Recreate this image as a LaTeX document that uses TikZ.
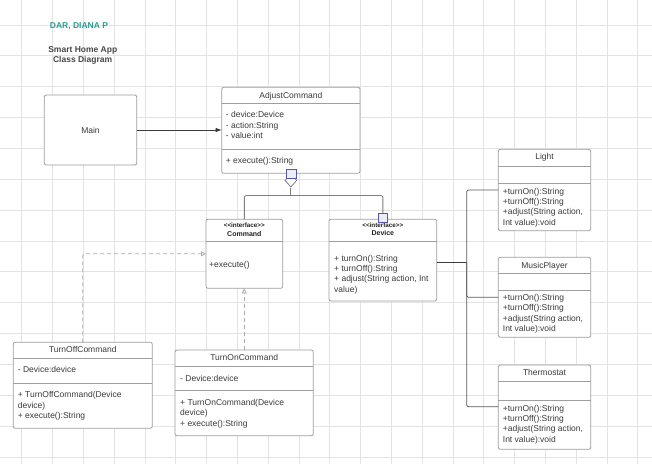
\documentclass[tikz,border=0pt]{standalone}
\usepackage{fontspec}
\setmainfont{Liberation Sans}
\usetikzlibrary{arrows.meta,shapes.geometric}

\definecolor{gridc}{HTML}{E3E3E3}
\definecolor{boxc}{HTML}{9E9E9E}
\definecolor{txtc}{HTML}{3A3A3A}
\definecolor{headc}{HTML}{222222}
\definecolor{authorc}{HTML}{2A9D8F}
\definecolor{titlec}{HTML}{474747}
\definecolor{dashc}{HTML}{ABABAB}
\definecolor{linkc}{HTML}{5A5A5A}
\definecolor{handlec}{HTML}{5656AE}
\definecolor{handlefill}{HTML}{EDEDFA}

% stereotype label with plain angle brackets
\newcommand\stereotypetext[1]{<\kern0pt<#1>\kern0pt>}

\tikzset{
  gridline/.style={draw=gridc, line width=0.8pt},
  umlbox/.style={draw=boxc, line width=0.8pt, fill=white, rounded corners=2pt,
    anchor=north west, inner sep=0pt, outer sep=0pt},
  divider/.style={draw=boxc, line width=0.8pt},
  ctitle/.style={anchor=base, inner sep=0pt, text=txtc,
    font=\fontsize{8.5}{10.3}\selectfont},
  cbody/.style={anchor=north west, inner sep=0pt, align=left, text=txtc,
    font=\fontsize{8.5}{10.3}\selectfont},
  stereo/.style={anchor=base, inner sep=0pt, text=headc,
    font=\bfseries\fontsize{6.3}{7}\selectfont},
  cname/.style={anchor=base, inner sep=0pt, text=headc,
    font=\bfseries\fontsize{7}{8}\selectfont},
  realize/.style={draw=dashc, line width=0.8pt, dash pattern=on 4pt off 3pt,
    rounded corners=2pt, -{Triangle[open,length=5pt,width=5pt]}},
  assoc/.style={draw=linkc, line width=0.8pt, rounded corners=2pt},
  aggline/.style={draw=boxc!80!black, line width=0.8pt, rounded corners=2pt},
  handle/.style={draw=handlec, fill=handlefill, line width=0.9pt,
    minimum size=9.5pt, inner sep=0pt},
}

\begin{document}
\begin{tikzpicture}[x=1pt,y=-1pt]
\useasboundingbox (0,0) rectangle (652,464);
\fill[white] (0,0) rectangle (652,464);

% background grid
\foreach \i in {0,...,20}
  \draw[gridline] ({21.7+30.8*\i},0) -- ({21.7+30.8*\i},464);
\foreach \j in {0,...,14}
  \draw[gridline] (0,{25+30.85*\j}) -- (652,{25+30.85*\j});

% heading
\node[anchor=base, inner sep=0pt, text=authorc, font=\bfseries\fontsize{8.5}{10}\selectfont]
  (author) at (79,28) {DAR, DIANA P};
\node[anchor=base, inner sep=0pt, text=titlec, font=\bfseries\fontsize{8.5}{10}\selectfont]
  (title1) at (82.8,52.3) {Smart Home App};
\node[anchor=base, inner sep=0pt, text=titlec, font=\bfseries\fontsize{8.5}{10}\selectfont]
  (title2) at (82.6,62.3) {Class Diagram};

% Main
\node[umlbox, minimum width=92.4pt, minimum height=70pt] (main) at (44.3,95) {};
\node[ctitle] (mainT) at (90.5,133) {Main};

% AdjustCommand
\node[umlbox, minimum width=138.3pt, minimum height=86pt] (adj) at (221.7,87.3) {};
\draw[divider] (adj.west |- 0,103.3) -- (adj.east |- 0,103.3);
\draw[divider] (adj.west |- 0,149) -- (adj.east |- 0,149);
\node[ctitle] (adjT) at (adj.north |- 0,98) {AdjustCommand};
\node[cbody] (adjA) at (225.7,111.5) {- device:Device\\- action:String\\- value:int};
\node[cbody] (adjM) at (225.7,157.1) {+ execute():String};

% Command interface
\node[umlbox, minimum width=76.7pt, minimum height=69pt] (cmd) at (206,219.3) {};
\draw[divider] (cmd.west |- 0,241.7) -- (cmd.east |- 0,241.7);
\node[stereo] (cmdS) at (cmd.north |- 0,227.9) {\stereotypetext{interface}};
\node[cname] (cmdT) at (cmd.north |- 0,236.5) {Command};
\node[cbody] (cmdM) at (209,260.8) {+execute()};

% Device interface
\node[umlbox, minimum width=107.7pt, minimum height=81.7pt] (dev) at (329,219.3) {};
\draw[divider] (dev.west |- 0,241.7) -- (dev.east |- 0,241.7);
\node[stereo] (devS) at (dev.north |- 0,227.4) {\stereotypetext{interface}};
\node[cname] (devT) at (dev.north |- 0,235.8) {Device};
\node[cbody] (devM) at (334,254.8) {+ turnOn():String\\+ turnOff():String\\+ adjust(String action, Int\\value)};

% Light
\node[umlbox, minimum width=92.4pt, minimum height=81.4pt] (light) at (498.3,149.3) {};
\draw[divider] (light.west |- 0,166) -- (light.east |- 0,166);
\draw[divider] (light.west |- 0,183.3) -- (light.east |- 0,183.3);
\node[ctitle] (lightT) at (light.north |- 0,159.7) {Light};
\node[cbody] (lightM) at (502.7,187.8) {+turnOn():String\\+turnOff():String\\+adjust(String action,\\Int value):void};

% MusicPlayer
\node[umlbox, minimum width=92.4pt, minimum height=80pt] (music) at (498.3,257.3) {};
\draw[divider] (music.west |- 0,273.3) -- (music.east |- 0,273.3);
\draw[divider] (music.west |- 0,290) -- (music.east |- 0,290);
\node[ctitle] (musicT) at (music.north |- 0,268) {MusicPlayer};
\node[cbody] (musicM) at (502.7,294.1) {+turnOn():String\\+turnOff():String\\+adjust(String action,\\Int value):void};

% Thermostat
\node[umlbox, minimum width=92.4pt, minimum height=84.3pt] (thermo) at (498.3,365) {};
\draw[divider] (thermo.west |- 0,381.7) -- (thermo.east |- 0,381.7);
\draw[divider] (thermo.west |- 0,400) -- (thermo.east |- 0,400);
\node[ctitle] (thermoT) at (thermo.north |- 0,375.3) {Thermostat};
\node[cbody] (thermoM) at (502.7,404.8) {+turnOn():String\\+turnOff():String\\+adjust(String action,\\Int value):void};

% TurnOffCommand
\node[umlbox, minimum width=139pt, minimum height=86pt] (toff) at (13.3,342.3) {};
\draw[divider] (toff.west |- 0,358.3) -- (toff.east |- 0,358.3);
\draw[divider] (toff.west |- 0,383.3) -- (toff.east |- 0,383.3);
\node[ctitle] (toffT) at (toff.north |- 0,352) {TurnOffCommand};
\node[cbody] (toffA) at (17.7,366.5) {- Device:device};
\node[cbody] (toffM) at (17.7,391.5) {+ TurnOffCommand(Device\\device)\\+ execute():String};

% TurnOnCommand
\node[umlbox, minimum width=138.3pt, minimum height=85.7pt] (ton) at (175,350) {};
\draw[divider] (ton.west |- 0,366) -- (ton.east |- 0,366);
\draw[divider] (ton.west |- 0,390.7) -- (ton.east |- 0,390.7);
\node[ctitle] (tonT) at (ton.north |- 0,360) {TurnOnCommand};
\node[cbody] (tonA) at (180,374.8) {- Device:device};
\node[cbody] (tonM) at (180,399.1) {+ TurnOnCommand(Device\\device)\\+ execute():String};

% Main uses AdjustCommand
\draw[draw=txtc, line width=0.8pt, -{Latex[length=6pt,width=4.5pt]}]
  (main.east) -- (adj.west |- main.east);

% aggregation from AdjustCommand to both interfaces
\node[diamond, draw=boxc!80!black, fill=white, line width=0.8pt, inner sep=0pt,
  minimum width=12pt, minimum height=13.4pt, anchor=north] (agg) at (adj.south) {};
\coordinate (split) at (adj.south |- 0,195.5);
\draw[aggline] (agg.south) -- (split);
\draw[aggline] (cmd.north) |- (split) -| (dev.north);

% realizations of Command
\draw[realize] (toff.north) |- (cmd.west);
\draw[realize] (ton.north) -- (ton.north |- cmd.south);

% Device implementations
\coordinate (bus) at (466.7,262.3);
\coordinate (lightp) at (light.west |- 0,190);
\coordinate (musicp) at (music.west |- 0,297.3);
\coordinate (thermop) at (thermo.west |- 0,406.7);
\draw[draw=txtc, line width=0.9pt] (dev.east |- bus) -- (bus);
\draw[assoc] (lightp) -| (bus);
\draw[assoc] (musicp) -| (bus);
\draw[assoc] (thermop) -| (bus);

% selection handles
\node[handle] (hadj) at (291.3,173.8) {};
\node[handle] (hdev) at (383,217.8) {};
\end{tikzpicture}
\end{document}
